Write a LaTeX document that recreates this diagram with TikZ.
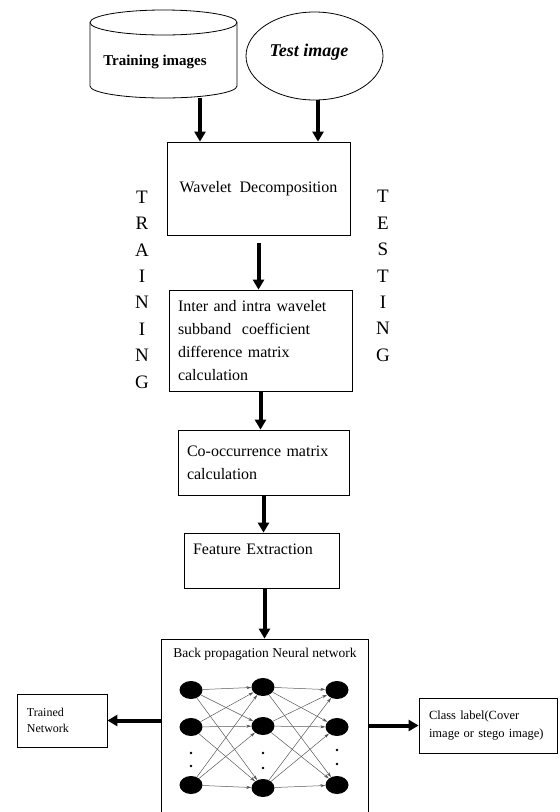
\documentclass[tikz,border=0pt]{standalone}
\usepackage{fontspec}
\setmainfont{Liberation Serif}
\usepackage{tikz}
\usetikzlibrary{arrows.meta,shapes.geometric}

\begin{document}
\begin{tikzpicture}[x=1pt,y=-1pt,
	bigarrow/.style={line width=4pt,-{Triangle[width=11pt,length=10pt]}},
	box/.style={draw=black,thick,rectangle,inner xsep=9pt,inner ysep=0pt},
	neuron/.style={ellipse,fill=black,minimum width=23pt,minimum height=18pt,inner sep=0pt},
	wire/.style={draw=black!65,line width=0.5pt,-{Stealth[length=5pt,width=3pt]}},
	dot/.style={circle,fill=black,minimum size=2.6pt,inner sep=0pt}]
	\useasboundingbox (0,0) rectangle (560,812);

	% inputs
	\draw[thick] (90,22.5) -- (90,86) arc[start angle=180,end angle=360,x radius=73.5,y radius=-12] -- (237,22.5);
	\draw[thick] (163.5,22.5) ellipse[x radius=73.5,y radius=12.5];
	\node (train) at (155,62) {\fontsize{15}{18}\selectfont\textbf{Training images}};
	\node[shape=ellipse,draw=black,thick,minimum width=137pt,minimum height=88pt,inner sep=0pt] (test) at (314.5,56) {};
	\node (testtxt) at (309,52) {\fontsize{18}{21}\selectfont\textbf{\textit{Test image}}};
	\coordinate (trainout) at (200,98);
	\coordinate (testout) at (318,100);

	% side labels
	\node[align=center,font=\fontsize{19}{26.4}\selectfont] (training) at (142,289.5) {T\\R\\A\\I\\N\\I\\N\\G};
	\node[align=center,font=\fontsize{19}{26.4}\selectfont] (testing) at (383,276) {T\\E\\S\\T\\I\\N\\G};

	% processing boxes
	\node[box,minimum width=183pt,minimum height=93pt,font=\fontsize{16}{23}\selectfont] (wave) at (258.5,188.5) {Wavelet\ \ Decomposition};
	\node[box,minimum width=183pt,minimum height=101pt,text width=165pt,align=left,font=\fontsize{16}{23}\selectfont] (inter) at (260.5,340.5) {Inter and intra wavelet\\subband\ \ coefficient\\difference matrix\\calculation};
	\node[box,minimum width=171pt,minimum height=65pt,text width=153pt,align=left,font=\fontsize{16}{23}\selectfont] (co) at (263.5,462.5) {Co-occurrence matrix\\calculation};
	\node[box,minimum width=155pt,minimum height=55pt,text width=137pt,align=left,font=\fontsize{16}{23}\selectfont] (feat) at (261.5,560.5) {Feature Extraction\\\mbox{}};

	% neural network
	\node[box,minimum width=207pt,minimum height=179pt] (nn) at (264.5,728.5) {};
	\node[font=\fontsize{13.5}{16}\selectfont] (title) at (265,654) {Back propagation Neural network};
	\node[neuron] (a1) at (191,690) {};
	\node[neuron] (a2) at (191,727) {};
	\node[neuron] (a3) at (191,785) {};
	\node[neuron] (b1) at (263,687) {};
	\node[neuron] (b2) at (263,726) {};
	\node[neuron] (b3) at (263,788) {};
	\node[neuron] (c1) at (337,690) {};
	\node[neuron] (c2) at (337,727) {};
	\node[neuron] (c3) at (337,785) {};
	\node[dot] (d1) at (191,753) {};
	\node[dot] (d2) at (191,766) {};
	\node[dot] (d3) at (263,753) {};
	\node[dot] (d4) at (263,768) {};
	\node[dot] (d5) at (337,750) {};
	\node[dot] (d6) at (337,764) {};

	\path[wire] (a1) edge (b1);
	\path[wire] (a1) edge (b2);
	\path[wire] (a1) edge (b3);
	\path[wire] (a2) edge (b1);
	\path[wire] (a2) edge (b2);
	\path[wire] (a2) edge (b3);
	\path[wire] (a3) edge (b1);
	\path[wire] (a3) edge (b2);
	\path[wire] (a3) edge (b3);
	\path[wire] (b1) edge (c1);
	\path[wire] (b1) edge (c2);
	\path[wire] (b1) edge (c3);
	\path[wire] (b2) edge (c1);
	\path[wire] (b2) edge (c2);
	\path[wire] (b2) edge (c3);
	\path[wire] (b3) edge (c1);
	\path[wire] (b3) edge (c2);
	\path[wire] (b3) edge (c3);

	% outputs
	\node[box,minimum width=90pt,minimum height=53pt,text width=70pt,inner xsep=10pt,align=left,font=\fontsize{12}{16}\selectfont] (trained) at (62,720.5) {Trained\\Network};
	\node[box,minimum width=138pt,minimum height=55pt,text width=118pt,inner xsep=10pt,align=left,font=\fontsize{12.5}{18}\selectfont] (class) at (488,725.5) {Class label(Cover\\image or stego image)};

	% flow
	\draw[bigarrow] (trainout) -- (trainout |- wave.north);
	\draw[bigarrow] (testout) -- (testout |- wave.north);
	\draw[bigarrow,shorten <=8pt] (wave.south) -- (wave.south |- inter.north);
	\draw[bigarrow] (inter.south) -- (inter.south |- co.north);
	\draw[bigarrow] (co.south) -- (co.south |- feat.north);
	\draw[bigarrow] (nn.north |- feat.south) -- (nn.north);
	\draw[bigarrow] (nn.west |- trained.east) -- (trained.east);
	\draw[bigarrow] (nn.east |- class.west) -- (class.west);
\end{tikzpicture}
\end{document}
